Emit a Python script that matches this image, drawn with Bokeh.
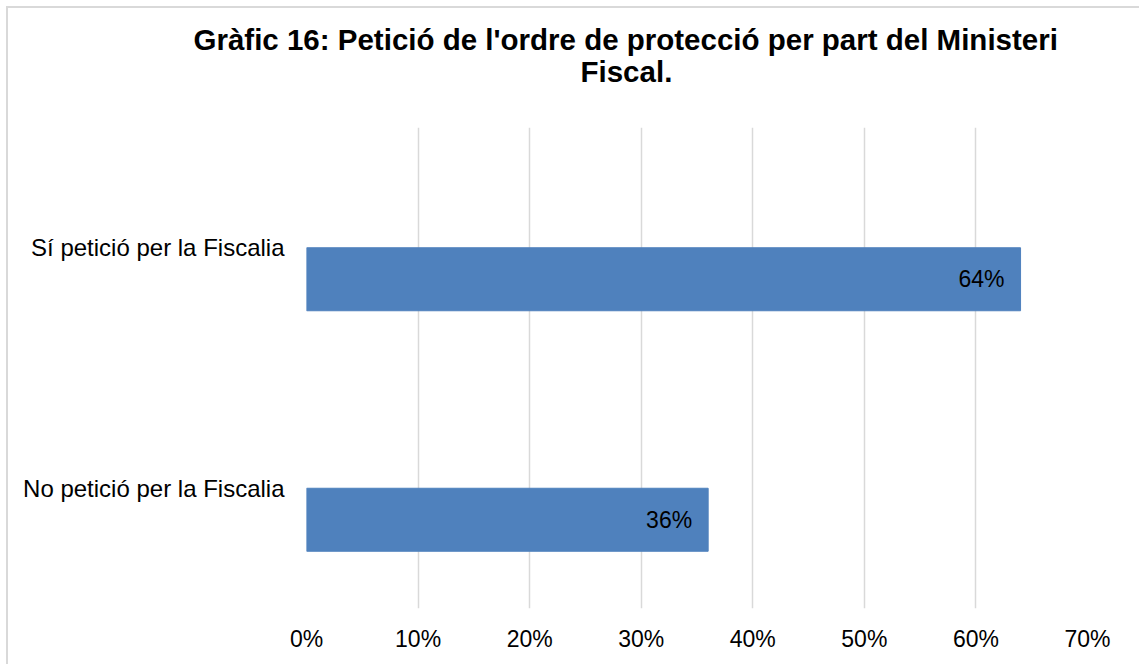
from bokeh.plotting import figure
from bokeh.models import ColumnDataSource, Title, NumeralTickFormatter, FixedTicker
from bokeh.transform import dodge
from bokeh.core.properties import value
from bokeh.embed import file_html
from bokeh.resources import INLINE

categories = ["No petició per la Fiscalia", "Sí petició per la Fiscalia"]
values = [0.36, 0.64]
value_labels = ["36%", "64%"]
x_ticks = [0.0, 0.1, 0.2, 0.3, 0.4, 0.5, 0.6, 0.7]
title_lines = ["Gràfic 16: Petició de l'ordre de protecció per part del Ministeri", "Fiscal."]

FONT = "Liberation Sans"

src = ColumnDataSource(dict(cat=categories, val=values, lab=value_labels))

p = figure(width=1131, height=656, y_range=categories, x_range=(0, 0.7),
           output_backend="svg", toolbar_location=None,
           min_border_left=298, min_border_right=52, min_border_top=119, min_border_bottom=56)
p.styles = {"outline": "2px solid #d9d9d9", "margin-left": "8px", "margin-top": "8px"}
p.outline_line_color = None
p.background_fill_color = "white"
p.border_fill_color = "white"

p.hbar(y=dodge("cat", -0.131, range=p.y_range), right="val", left=0, height=0.262,
       source=src, fill_color="#4f81bd", line_color="#4f81bd", line_width=1)

p.text(x="val", y=dodge("cat", -0.131, range=p.y_range), text="lab", source=src,
       x_offset=-16, text_align="right", text_baseline="middle",
       text_font=value(FONT), text_font_size="23px", text_color="#000000")

p.xgrid.grid_line_color = "#d9d9d9"
p.xgrid.grid_line_width = 1.5
p.ygrid.grid_line_color = None

p.xaxis.ticker = FixedTicker(ticks=x_ticks)
p.xaxis.formatter = NumeralTickFormatter(format="0%")
for ax in (p.xaxis, p.yaxis):
    ax.axis_line_color = None
    ax.major_tick_line_color = None
    ax.minor_tick_line_color = None
    ax.major_label_text_font = FONT
    ax.major_label_text_color = "#000000"
p.xaxis.major_label_text_font_size = "23px"
p.xaxis.major_label_standoff = 11
p.yaxis.major_label_text_font_size = "24px"
p.yaxis.major_label_standoff = 16

# "above" panels stack outward from the frame: second line first
title_offsets = [-113, 274]
title_standoffs = [-86, 80]
for txt, off, so in reversed(list(zip(title_lines, title_offsets, title_standoffs))):
    p.add_layout(Title(text=txt, align="left", offset=off,
                       text_font=FONT, text_font_size="29.5px", text_font_style="bold",
                       text_color="#000000", standoff=so), "above")

open("out.html", "w").write(file_html(p, INLINE))
